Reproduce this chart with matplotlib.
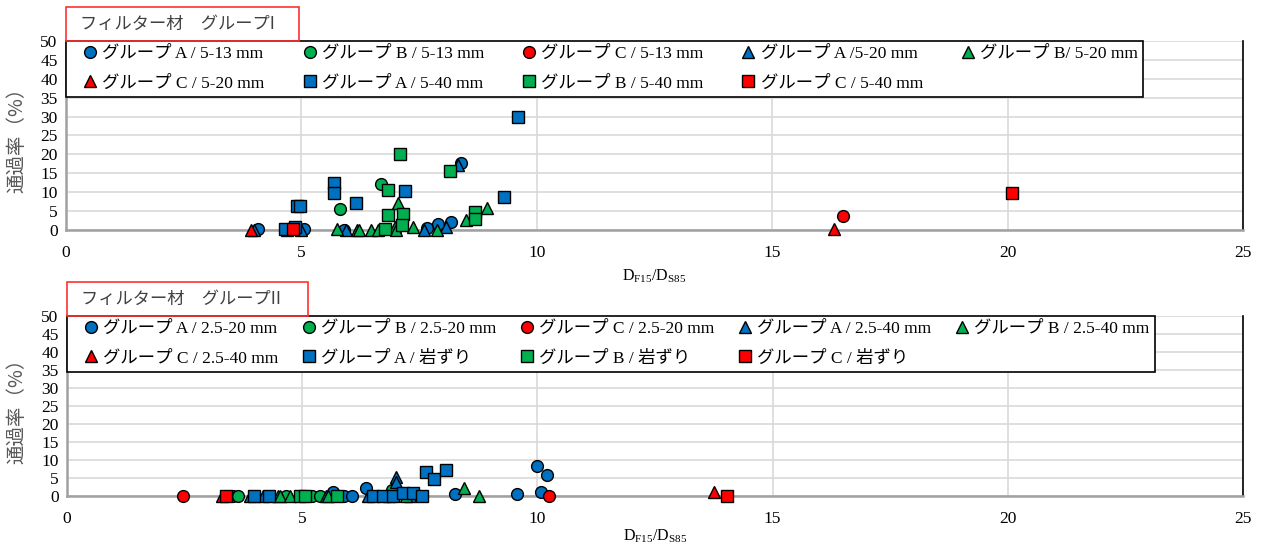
import matplotlib.pyplot as plt
from matplotlib.patches import Rectangle

plt.rcParams['font.family'] = ['Liberation Serif', 'Noto Sans CJK JP']
plt.rcParams['mathtext.fontset'] = 'custom'
plt.rcParams['mathtext.rm'] = 'Liberation Serif'

BLUE = '#0070C0'
GREEN = '#00B050'
RED = '#FF0000'

# --- group I (top) ---
a513_x = [4.08, 5.06, 5.9, 7.66, 7.9, 8.17, 8.4]
a513_y = [0.2, 0.2, 0.1, 0.4, 1.5, 2.2, 17.6]
b513_x = [5.83, 6.69]
b513_y = [5.6, 12.1]
c513_x = [16.5]
c513_y = [3.8]
a520_x = [4.0, 4.7, 5.0, 5.95, 7.6, 8.08, 8.33]
a520_y = [0.0, 0.0, 0.0, 0.0, 0.0, 0.9, 17.3]
b520_x = [5.76, 6.18, 6.22, 6.48, 6.62, 6.99, 7.0, 7.06, 7.37, 7.89, 8.49, 8.95]
b520_y = [0.3, 0.0, 0.0, 0.0, 0.0, 0.9, 0.0, 7.2, 0.9, 0.0, 2.6, 5.7]
c520_x = [3.92, 16.32]
c520_y = [0.0, 0.2]
a540_x = [4.65, 4.86, 4.9, 4.97, 5.7, 5.7, 6.16, 7.2, 9.31, 9.6]
a540_y = [0.2, 0.9, 6.3, 6.3, 12.3, 9.7, 7.05, 10.3, 8.8, 29.9]
b540_x = [6.77, 6.84, 6.84, 7.1, 7.16, 7.14, 8.15, 8.68, 8.68]
b540_y = [0.2, 10.6, 4.0, 20.0, 4.15, 1.3, 15.7, 4.7, 2.8]
c540_x = [4.82, 20.1]
c540_y = [0.2, 9.7]

# --- group II (bottom) ---
a2520_x = [3.52, 5.13, 5.66, 5.89, 6.05, 6.35, 8.25, 9.56, 10.0, 10.2, 10.07]
a2520_y = [0.0, 0.0, 1.2, 0.0, 0.0, 2.1, 0.6, 0.6, 8.4, 5.8, 1.2]
b2520_x = [3.63, 4.65, 5.2, 5.38, 6.9]
b2520_y = [0.0, 0.0, 0.0, 0.0, 1.7]
c2520_x = [2.47, 10.25]
c2520_y = [0.0, 0.0]
a2540_x = [3.89, 4.17, 5.5, 6.4, 6.99, 6.99, 7.3]
a2540_y = [0.0, 0.0, 0.0, 0.0, 5.4, 4.0, 0.0]
b2540_x = [4.49, 4.53, 4.74, 5.55, 6.85, 7.2, 8.44, 8.76]
b2540_y = [0.0, 0.0, 0.0, 0.0, 0.0, 0.0, 2.1, 0.0]
c2540_x = [3.29, 13.76]
c2540_y = [0.0, 1.1]
aiwa_x = [3.98, 4.3, 6.51, 6.72, 6.92, 7.15, 7.36, 7.54, 7.64, 7.8, 8.05]
aiwa_y = [0.0, 0.0, 0.0, 0.0, 0.0, 0.8, 0.9, 0.0, 6.8, 4.6, 7.2]
biwa_x = [4.95, 5.05, 5.73]
biwa_y = [0.0, 0.0, 0.0]
ciwa_x = [3.39, 14.04]
ciwa_y = [0.0, 0.0]

top_series = [
    (a513_x, a513_y, 'o', BLUE, 'グループ A / 5-13 mm'),
    (b513_x, b513_y, 'o', GREEN, 'グループ B / 5-13 mm'),
    (c513_x, c513_y, 'o', RED, 'グループ C / 5-13 mm'),
    (a520_x, a520_y, '^', BLUE, 'グループ A /5-20 mm'),
    (b520_x, b520_y, '^', GREEN, 'グループ B/ 5-20 mm'),
    (c520_x, c520_y, '^', RED, 'グループ C / 5-20 mm'),
    (a540_x, a540_y, 's', BLUE, 'グループ A / 5-40 mm'),
    (b540_x, b540_y, 's', GREEN, 'グループ B / 5-40 mm'),
    (c540_x, c540_y, 's', RED, 'グループ C / 5-40 mm'),
]
bottom_series = [
    (a2520_x, a2520_y, 'o', BLUE, 'グループ A / 2.5-20 mm'),
    (b2520_x, b2520_y, 'o', GREEN, 'グループ B / 2.5-20 mm'),
    (c2520_x, c2520_y, 'o', RED, 'グループ C / 2.5-20 mm'),
    (a2540_x, a2540_y, '^', BLUE, 'グループ A / 2.5-40 mm'),
    (b2540_x, b2540_y, '^', GREEN, 'グループ B / 2.5-40 mm'),
    (c2540_x, c2540_y, '^', RED, 'グループ C / 2.5-40 mm'),
    (aiwa_x, aiwa_y, 's', BLUE, 'グループ A / 岩ずり'),
    (biwa_x, biwa_y, 's', GREEN, 'グループ B / 岩ずり'),
    (ciwa_x, ciwa_y, 's', RED, 'グループ C / 岩ずり'),
]
titles = ['フィルター材　グループI', 'フィルター材　グループII']

fig = plt.figure(figsize=(12.69, 5.46), dpi=100)
ax1 = fig.add_axes([0.052, 0.5788, 0.9275, 0.3461])
ax2 = fig.add_axes([0.0528, 0.0916, 0.9267, 0.3296])

# legend order: matplotlib fills columns first, picture reads row by row
order = [0, 5, 1, 6, 2, 7, 3, 8, 4]

def draw(ax, series, title, leg_w, title_w, xlab_y, ylab_x):
    handles = []
    for xs, ys, mk, col, lab in series:
        ms = 9 if mk == 's' else 8.5
        h, = ax.plot(xs, ys, linestyle='none', marker=mk, ms=ms, mfc=col,
                     mec='black', mew=1.0, label=lab, zorder=3, clip_on=False)
        handles.append(h)
    ax.set_xlim(0, 25)
    ax.set_ylim(0, 50)
    ax.set_xticks(range(0, 26, 5))
    ax.set_yticks(range(0, 51, 5))
    ax.tick_params(axis='x', length=0, labelsize=12.5, pad=11)
    ax.tick_params(axis='y', length=0, labelsize=12.5, pad=6)
    ax.grid(True, color='#D9D9D9', lw=1.2)
    ax.set_axisbelow(True)
    for s in ['bottom', 'left']:
        ax.spines[s].set_color('#A0A0A0')
        ax.spines[s].set_linewidth(1.8)
    ax.spines['top'].set_visible(False)
    ax.spines['right'].set_color('black')
    ax.spines['right'].set_linewidth(1.2)
    ax.set_ylabel('通過率（%）', fontsize=14, color='#595959', va='center',
                  family=['Noto Sans CJK JP'])
    ax.yaxis.set_label_coords(ylab_x, 0.5)
    ax.set_xlabel(r'$\mathregular{D_{F15}/D_{S85}}$', fontsize=11.5, va='center')
    ax.xaxis.set_label_coords(0.5, xlab_y)
    leg = ax.legend([handles[i] for i in order],
                    [series[i][4] for i in order],
                    ncol=5, loc='upper left', mode='expand',
                    bbox_to_anchor=(0.0, 0.0, leg_w, 1.0), borderaxespad=0,
                    fontsize=12.5, frameon=True, fancybox=False,
                    edgecolor='black', framealpha=1, handletextpad=-0.4,
                    handlelength=2.2, columnspacing=0.5, labelspacing=0.75,
                    borderpad=0.3)
    leg.get_frame().set_linewidth(1.2)
    leg.set_zorder(5)
    # title box above the plot area
    pos = ax.get_position()
    fig.add_artist(Rectangle((pos.x0, pos.y1), title_w, 0.062,
                             transform=fig.transFigure, fill=False,
                             edgecolor='#FF3030', lw=1.2))
    fig.text(pos.x0 + 0.011, pos.y1 + 0.031, title, fontsize=12.4,
             color='#404040', va='center', ha='left',
             family=['Noto Sans CJK JP', 'Liberation Serif'])

draw(ax1, top_series, titles[0], 0.915, 0.184, -0.245, -0.0416)
draw(ax2, bottom_series, titles[1], 0.925, 0.190, -0.225, -0.0425)

fig.savefig('out.png', dpi=100)
